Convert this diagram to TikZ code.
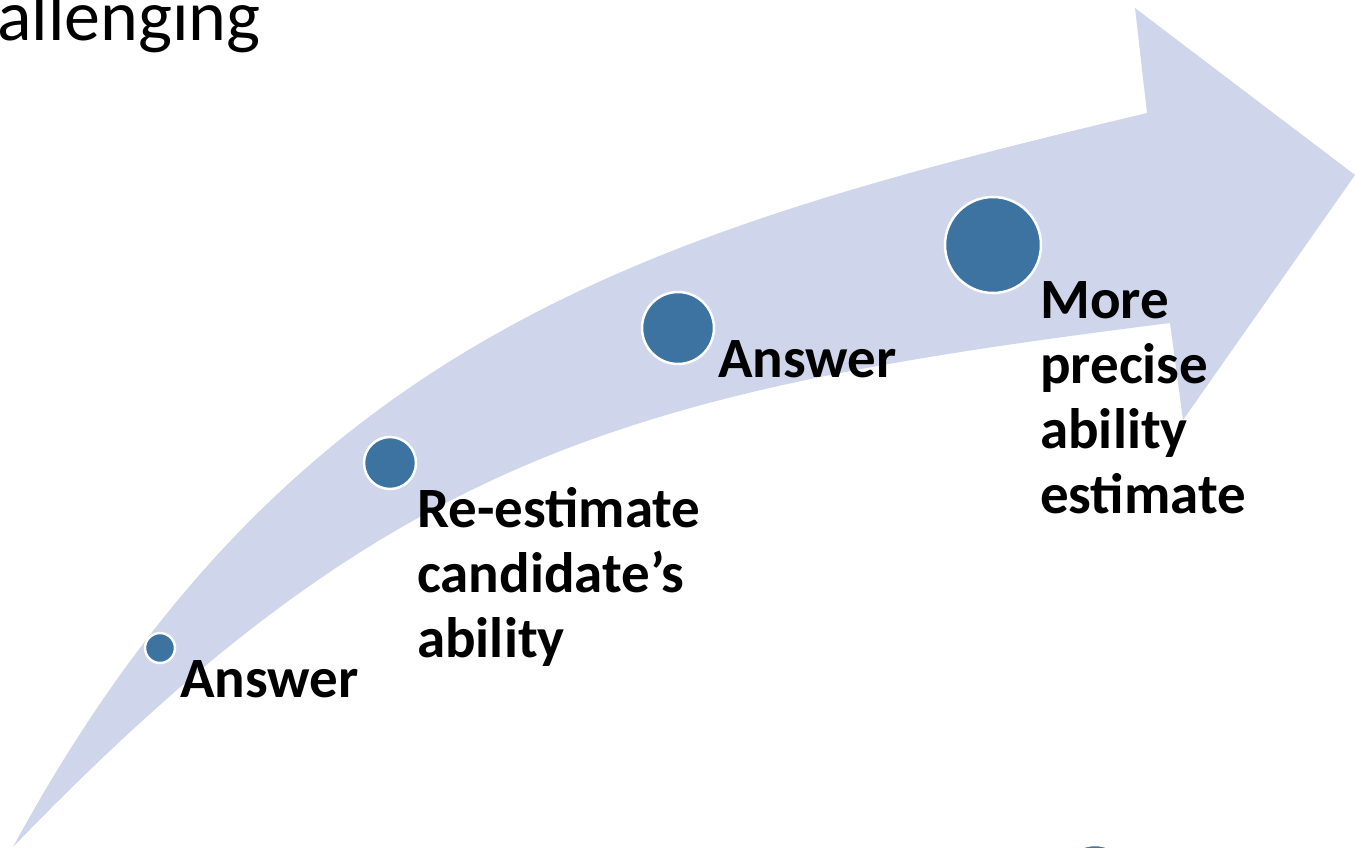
\documentclass[tikz,border=0pt]{standalone}
\usepackage{fontspec}
\setmainfont{Carlito}
\definecolor{arrowfill}{RGB}{207,213,234}
\definecolor{dotblue}{RGB}{60,115,160}
\tikzset{
  dot/.style={circle, fill=dotblue, draw=white, line width=2.5pt, inner sep=0pt},
  steplabel/.style={anchor=base west, inner sep=0pt, align=left,
    font=\bfseries\fontsize{57}{65}\selectfont}
}
\begin{document}
\begin{tikzpicture}[x=1pt, y=-1pt]
\useasboundingbox (0,0) rectangle (1355,847);
\clip (0,0) rectangle (1355,847);

% Curved arrow
\fill[arrowfill] (13,847) .. controls (291,335) and (653,231) .. (1147,113)
  -- (1135,8) -- (1355,175) -- (1183,420) -- (1170,323)
  .. controls (630,391) and (393,453) .. (13,847) -- cycle;

% Title remnant
\node[anchor=base west, inner sep=0pt, font=\fontsize{72}{86}\selectfont] (title) at (-3,40) {allenging};

% Steps along the arrow
\node[dot, minimum size=30pt] (d1) at (160,648) {};
\node[dot, minimum size=52pt] (d2) at (390,463) {};
\node[dot, minimum size=72pt] (d3) at (678,328) {};
\node[dot, minimum size=96pt] (d4) at (993,245) {};
\node[dot, minimum size=74pt] (d5) at (1095,882) {};

% Labels (base = baseline of last line)
\node[steplabel] (l1) at (180,697) {Answer};
\node[steplabel] (l2) at (417,657) {Re-estimate\\candidate’s\\ability};
\node[steplabel] (l3) at (718,377) {Answer};
\node[steplabel] (l4) at (1040,513) {More\\precise\\ability\\estimate};
\end{tikzpicture}
\end{document}
